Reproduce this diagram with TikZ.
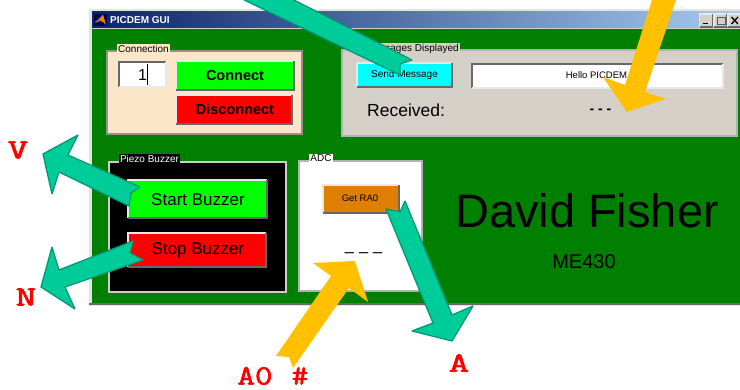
\documentclass[tikz,border=0pt]{standalone}
\usepackage{fontspec}
\setmainfont{Liberation Sans}
\newfontfamily\labfont[FakeBold=2.2]{Latin Modern Mono}
\definecolor{guigreen}{HTML}{007F00}
\definecolor{peach}{HTML}{FCE6CA}
\definecolor{wingray}{HTML}{D4D0C8}
\definecolor{tealfill}{HTML}{00CC99}
\definecolor{tealedge}{HTML}{009977}
\definecolor{gold}{HTML}{FFC000}
\definecolor{orangebtn}{HTML}{DF7F00}
\definecolor{bevdark}{HTML}{686868}
\definecolor{bevlight}{HTML}{E8E8E8}
\definecolor{btncyan}{HTML}{00FFFF}
\definecolor{btngreen}{HTML}{00FF00}
\definecolor{btnred}{HTML}{FF0000}
\definecolor{titleL}{HTML}{0A246A}
\definecolor{titleR}{HTML}{A6CAF0}
\newcommand{\fs}[1]{\fontsize{#1}{#1}\selectfont}
\newcommand{\wide}[2][1.42]{\scalebox{#1}[1]{#2}}
\newcommand{\bevel}[1]{%
  \draw[bevlight,line width=1.2pt] (#1.south west)--(#1.north west)--(#1.north east);
  \draw[bevdark,line width=1.4pt] (#1.south west)--(#1.south east)--(#1.north east);}
\newcommand{\sunken}[1]{%
  \draw[bevdark,line width=1.2pt] (#1.south west)--(#1.north west)--(#1.north east);
  \draw[bevlight,line width=1.2pt] (#1.south west)--(#1.south east)--(#1.north east);}
\tikzset{
  box/.style={anchor=north west,inner sep=0pt,outer sep=0pt,minimum width=#1},
  panelline/.style={draw=#1,line width=1.2pt},
  grouplabel/.style={inner sep=1pt,text height=7pt,text depth=1.5pt,font=\fs{10}},
  tealarrow/.style={fill=tealfill,draw=tealedge,line width=1.3pt,line join=miter,miter limit=1.5},
  goldarrow/.style={fill=gold,draw=none},
  redlabel/.style={text=red,inner sep=0pt,font=\labfont\fs{28}},
}
\begin{document}
\begin{tikzpicture}[x=1pt,y=-1pt]
\useasboundingbox (0,0) rectangle (740,390);
\fill[white] (0,0) rectangle (740,390);
% window
\fill[wingray!60!white] (89,9) rectangle (740,306);
\fill[guigreen] (92,28) rectangle (740,303);
\fill[bevdark] (89,303) rectangle (740,305.5);
\shade[left color=titleL,right color=titleR] (92,12) rectangle (740,28);
\draw[wingray,line width=1pt] (92,28.5)--(740,28.5);
% icon
\fill[black!70!blue] (94,14) rectangle (107,26);
\fill[orange] (95,23)--(100,18)--(103,14.5)--(106,25)--(103,22)--(100,21)--cycle;
\fill[cyan!60!black] (95,22)--(100,18)--(100,21)--cycle;
\node[inner sep=0pt,anchor=west,text=white,font=\bfseries\fs{10}] (title) at (110,20) {PICDEM GUI};
% title buttons
\node[box=13pt,minimum height=13pt,fill=wingray] (minb) at (699.5,14) {};
\node[box=13pt,minimum height=13pt,fill=wingray] (maxb) at (714,14) {};
\node[box=13pt,minimum height=13pt,fill=wingray] (closeb) at (728,14) {};
\bevel{minb}\bevel{maxb}\bevel{closeb}
\fill[black] (703,23) rectangle (708,24.5);
\draw[black!65,line width=.9pt] (717,17) rectangle (725,24);
\draw[black,line width=1.3pt] (731.5,17)--(738,24) (738,17)--(731.5,24);
% connection panel
\node[box=195pt,minimum height=83pt,fill=peach] (connpanel) at (107,51) {};
\draw[panelline=wingray!70!black] (connpanel.south west) rectangle (connpanel.north east);
\node[grouplabel,fill=peach,anchor=center] (connlabel) at (143.5,49.5) {Connection};
\node[box=47pt,minimum height=25pt,fill=white] (editbox) at (119,62) {};
\sunken{editbox}
\node[inner sep=0pt,font=\fs{16}] (editone) at (142.5,74.5) {1};
\coordinate (caretA) at (147.5,64);
\coordinate (caretB) at (147.5,85);
\draw[black,line width=.8pt] (caretA)--(caretB);
\node[box=118pt,minimum height=29pt,fill=btngreen] (connect) at (176,61) {};
\bevel{connect}
\node[font=\bfseries\fs{14.5},inner sep=0pt] (connecttxt) at (235,75.5) {Connect};
\node[box=116pt,minimum height=29pt,fill=btnred] (disconnect) at (176,95) {};
\bevel{disconnect}
\node[font=\bfseries\fs{14.5},inner sep=0pt] (disconnecttxt) at (235,109.5) {Disconnect};
% messages panel
\node[box=395pt,minimum height=86pt,fill=wingray] (msgpanel) at (342,50) {};
\draw[panelline=white!70!black] (msgpanel.south west) rectangle (msgpanel.north east);
\node[grouplabel,fill=wingray,anchor=east] (msglabel) at (460,48.5) {Messages Displayed};
\node[box=95pt,minimum height=24pt,fill=btncyan] (send) at (357,63) {};
\bevel{send}
\node[font=\fs{10},inner sep=0pt] (sendtxt) at (404.5,75) {Send Message};
\node[box=251pt,minimum height=24pt,fill=white] (hello) at (472,64) {};
\sunken{hello}
\node[font=\fs{9.5},inner sep=0pt] (hellotxt) at (596.5,75.5) {Hello PICDEM};
\node[font=\fs{17.5},inner sep=0pt,anchor=west] (received) at (367,110) {Received:};
\node[font=\bfseries\fs{14},inner sep=0pt] (rxval) at (600.5,111.5) {- - -};
% piezo panel
\node[box=177pt,minimum height=130pt,fill=black] (piezo) at (109,162) {};
\draw[panelline=white!80!black] (piezo.south west) rectangle (piezo.north east);
\node[grouplabel,fill=black,text=white,anchor=center] (piezolabel) at (149.5,159.5) {Piezo Buzzer};
\node[box=139pt,minimum height=38pt,fill=btngreen] (start) at (128,180) {};
\bevel{start}
\node[font=\fs{17},inner sep=0pt] (starttxt) at (198,199.5) {Start Buzzer};
\node[box=138pt,minimum height=34pt,fill=btnred] (stop) at (128,233) {};
\bevel{stop}
\node[font=\fs{17},inner sep=0pt] (stoptxt) at (198,250) {Stop Buzzer};
% ADC panel
\node[box=123pt,minimum height=130pt,fill=white] (adc) at (299,161) {};
\draw[panelline=white!70!black] (adc.south west) rectangle (adc.north east);
\node[grouplabel,fill=white,anchor=center] (adclabel) at (321,159) {ADC};
\node[box=76pt,minimum height=28pt,fill=orangebtn] (getra) at (323,185) {};
\bevel{getra}
\node[font=\fs{9.5},inner sep=0pt] (getratxt) at (360,198) {Get RA0};
\node[font=\fs{17},inner sep=0pt] (adcval) at (363.5,255) {– – –};
% name
\node[font=\fs{47},inner sep=0pt] (name) at (587,211) {David Fisher};
\node[font=\fs{20},inner sep=0pt] (course) at (584,262) {ME430};
% arrows
\draw[tealarrow] (238,-3)--(400,75)--(400,64)--(412,60)--(288,-3)--cycle;
\draw[tealarrow] (140,187)--(131,193)--(129,206)--(59,172)--(52,194)--(43,154)--(78,135)--(68,155)--cycle;
\draw[tealarrow] (133,241)--(130,253)--(143,260)--(65,287)--(75,309)--(41,287)--(52,247)--(59,270)--cycle;
\draw[tealarrow] (405,201)--(400,212)--(386,209)--(433,323)--(412,331)--(452,341)--(473,306)--(452,315)--cycle;
\fill[goldarrow] (355,261)--(313,263)--(331,276)--(276,356)--(289,357)--(293,368)--(349,288)--(368,302)--cycle;
\fill[goldarrow] (653,-3)--(625,85)--(603,77)--(627,112)--(666,99)--(645,92)--(677,-3)--cycle;
% labels
\node[redlabel] (labV) at (18,150) {\wide{V}};
\node[redlabel] (labN) at (26,297) {\wide{N}};
\node[redlabel] (labA) at (459,363) {\wide{A}};
\node[redlabel] (labAzero) at (255,376) {\wide[1.22]{A0}};
\node[redlabel] (labHash) at (300,376) {\wide[1.15]{\#}};
\end{tikzpicture}
\end{document}
